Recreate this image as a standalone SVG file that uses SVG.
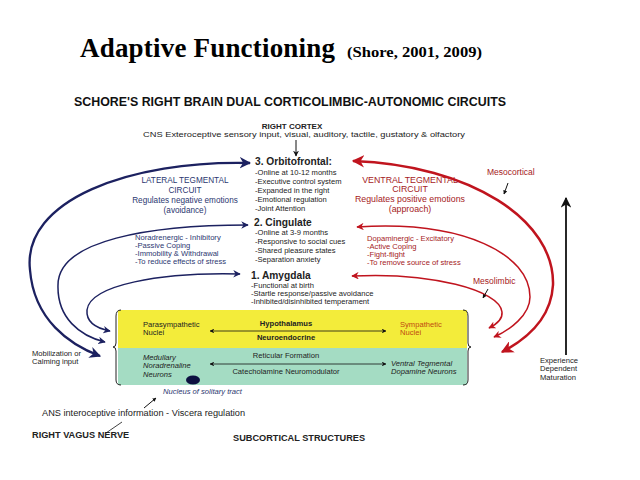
<svg xmlns="http://www.w3.org/2000/svg" width="640" height="480" viewBox="0 0 640 480">
<defs>
<marker id="mb" viewBox="0 0 10 10" refX="9" refY="5" markerWidth="5" markerHeight="5" orient="auto-start-reverse" markerUnits="strokeWidth"><path d="M0 0 L10 5 L0 10 L3 5 Z" fill="#1c2160"/></marker>
<marker id="mr" viewBox="0 0 10 10" refX="9" refY="5" markerWidth="5" markerHeight="5" orient="auto-start-reverse" markerUnits="strokeWidth"><path d="M0 0 L10 5 L0 10 L3 5 Z" fill="#c0141e"/></marker>
<marker id="mk" viewBox="0 0 10 10" refX="9" refY="5" markerWidth="6" markerHeight="6" orient="auto-start-reverse" markerUnits="strokeWidth"><path d="M0 0 L10 5 L0 10 L3 5 Z" fill="#111"/></marker>
<marker id="mk2" viewBox="0 0 10 10" refX="9" refY="5" markerWidth="4" markerHeight="4" orient="auto-start-reverse"><path d="M0 0 L10 5 L0 10 Z" fill="#111"/></marker>
</defs>
<style>
text{font-family:"Liberation Sans",Arial,sans-serif;fill:#222}
.s{font-size:7.6px}
.b{font-weight:bold}
.blue{fill:#2b3770}
.red{fill:#a51a24}
.it{font-style:italic}
.m{text-anchor:middle}
.bl{fill:none;stroke:#1c2160;stroke-width:2}
.rd{fill:none;stroke:#c0141e;stroke-width:2}
</style>
<rect width="640" height="480" fill="#fff"/>
<g id="title">
<text x="80" y="57" style="font-family:'Liberation Serif',serif;font-size:27px;font-weight:bold;fill:#000" textLength="255">Adaptive Functioning</text>
<text x="347" y="57" style="font-family:'Liberation Serif',serif;font-size:15px;font-weight:bold;fill:#000" textLength="135" lengthAdjust="spacingAndGlyphs">(Shore, 2001, 2009)</text>
</g>
<g id="header">
<text x="74" y="106" class="b" style="font-size:12.5px;fill:#111" textLength="432" lengthAdjust="spacingAndGlyphs">SCHORE'S RIGHT BRAIN DUAL CORTICOLIMBIC-AUTONOMIC CIRCUITS</text>
</g>
<g id="cortex">
<text x="292" y="129" class="b m" style="font-size:8px">RIGHT CORTEX</text>
<text x="143" y="137" style="font-size:7.6px" textLength="322" lengthAdjust="spacingAndGlyphs">CNS Exteroceptive sensory input, visual, auditory, tactile, gustatory &amp; olfactory</text>
</g>
<g id="orbitofrontal">
<text x="255" y="165" class="b" style="font-size:10.2px">3. Orbitofrontal:</text>
<text x="255" y="175" class="s">-Online at 10-12 months</text>
<text x="255" y="184" class="s">-Executive control system</text>
<text x="255" y="193" class="s">-Expanded in the right</text>
<text x="255" y="202" class="s">-Emotional regulation</text>
<text x="255" y="211" class="s">-Joint Attention</text>
</g>
<g id="cingulate">
<text x="254" y="226" class="b" style="font-size:10.2px">2.  Cingulate</text>
<text x="255" y="235" class="s">-Online at 3-9 months</text>
<text x="255" y="244" class="s">-Responsive to social cues</text>
<text x="255" y="253" class="s">-Shared pleasure states</text>
<text x="255" y="262" class="s">-Separation anxiety</text>
</g>
<g id="amygdala">
<text x="251" y="279" class="b" style="font-size:10.2px">1.  Amygdala</text>
<text x="251" y="288" class="s">-Functional at birth</text>
<text x="251" y="296" class="s">-Startle response/passive avoidance</text>
<text x="251" y="304" class="s">-Inhibited/disinhibited temperament</text>
</g>
<g id="lateral">
<text x="185" y="183" class="blue m" style="font-size:8.2px">LATERAL TEGMENTAL</text>
<text x="185" y="193" class="blue m" style="font-size:8.2px">CIRCUIT</text>
<text x="185" y="203" class="blue m" style="font-size:8.2px">Regulates negative emotions</text>
<text x="185" y="213" class="blue m" style="font-size:8.2px">(avoidance)</text>
<text x="135" y="240" class="blue s">Noradrenergic  - Inhibitory</text>
<text x="135" y="248" class="blue s">-Passive Coping</text>
<text x="135" y="256" class="blue s">-Immobility &amp; Withdrawal</text>
<text x="135" y="264" class="blue s">-To reduce effects of stress</text>
</g>
<g id="ventral">
<text x="410" y="183" class="red m" style="font-size:8.8px">VENTRAL TEGMENTAL</text>
<text x="410" y="192" class="red m" style="font-size:8.8px">CIRCUIT</text>
<text x="410" y="202" class="red m" style="font-size:8.8px">Regulates positive emotions</text>
<text x="410" y="212" class="red m" style="font-size:8.8px">(approach)</text>
<text x="367" y="241" class="red" style="font-size:7.6px">Dopaminergic - Excitatory</text>
<text x="367" y="249" class="red" style="font-size:7.6px">-Active Coping</text>
<text x="367" y="257" class="red" style="font-size:7.6px">-Fight-flight</text>
<text x="367" y="265" class="red" style="font-size:7.6px">-To remove source of stress</text>
<text x="487" y="175" class="red" style="font-size:8.5px">Mesocortical</text>
<text x="473" y="284" class="red" style="font-size:8.5px">Mesolimbic</text>
</g>
<g id="subcortical">
<rect x="118" y="310" width="349" height="38" fill="#f3ec3a"/>
<rect x="118" y="348" width="349" height="37" fill="#a4dcc3"/>
<path d="M121 310 Q116 310 116 316 L116 343 Q116 347 113 347 Q116 347 116 351 L116 380 Q116 385 121 385" fill="none" stroke="#222" stroke-width="1"/>
<path d="M463 310 Q468 310 468 316 L468 343 Q468 347 471 347 Q468 347 468 351 L468 380 Q468 385 463 385" fill="none" stroke="#222" stroke-width="1"/>
<text x="143" y="327" class="s">Parasympathetic</text>
<text x="143" y="335" class="s">Nuclei</text>
<text x="286" y="326" class="s b m">Hypothalamus</text>
<text x="286" y="340" class="s b m">Neuroendocrine</text>
<text x="400" y="327" class="s" style="fill:#c04a10">Sympathetic</text>
<text x="400" y="335" class="s" style="fill:#c04a10">Nuclei</text>
<text x="143" y="360" class="s it">Medullary</text>
<text x="143" y="368" class="s it">Noradrenaline</text>
<text x="143" y="377" class="s it">Neurons</text>
<text x="286" y="358" class="s m">Reticular Formation</text>
<text x="286" y="374" class="s m">Catecholamine Neuromodulator</text>
<text x="391" y="366" class="s it">Ventral Tegmental</text>
<text x="391" y="374" class="s it">Dopamine Neurons</text>
<ellipse cx="193" cy="380" rx="7" ry="4.5" fill="#0d1040"/>
</g>
<g id="labels">
<text x="163" y="394" class="blue s it">Nucleus of solitary tract</text>
<text x="42" y="416" style="font-size:9.2px">ANS interoceptive information - Viscera regulation</text>
<text x="32" y="438" class="b" style="font-size:9.2px">RIGHT VAGUS NERVE</text>
<text x="233" y="441" class="b" style="font-size:9.2px">SUBCORTICAL STRUCTURES</text>
<text x="32" y="356" class="s">Mobilization or</text>
<text x="32" y="364" class="s">Calming input</text>
<text x="540" y="363" class="s">Experience</text>
<text x="540" y="371" class="s">Dependent</text>
<text x="540" y="380" class="s">Maturation</text>
</g>
<g id="connectors">
<line x1="296" y1="140" x2="296" y2="156" stroke="#111" stroke-width="1" marker-end="url(#mk)"/>
<path class="bl" d="M250 163 C130 160 22 200 30 270 C34 320 70 345 100 356" marker-start="url(#mb)" marker-end="url(#mb)" style="stroke-width:2.3"/>
<path class="bl" d="M248 225 C150 225 58 240 58 285 C57 318 80 336 105 342" marker-start="url(#mb)" marker-end="url(#mb)" style="stroke-width:1.5"/>
<path class="bl" d="M240 274 C160 272 90 285 87 310 C86 322 95 328 110 331" marker-start="url(#mb)" marker-end="url(#mb)" style="stroke-width:1.5"/>
<path class="rd" d="M353 161 C470 165 555 220 553 285 C551 320 525 340 502 352" marker-start="url(#mr)" marker-end="url(#mr)" style="stroke-width:2.5"/>
<path class="rd" d="M357 227 C465 220 530 255 530 297 C530 315 510 330 494 337" marker-start="url(#mr)" marker-end="url(#mr)" style="stroke-width:1.5"/>
<path class="rd" d="M352 276 C430 272 500 290 502 312 C503 320 495 325 489 328" marker-start="url(#mr)" marker-end="url(#mr)" style="stroke-width:1.5"/>
<line x1="566" y1="355" x2="566" y2="198" stroke="#111" stroke-width="1.8" marker-end="url(#mk)"/>
<line x1="508" y1="183" x2="504" y2="194" stroke="#111" stroke-width="1" marker-end="url(#mk2)"/>
<line x1="488" y1="289" x2="483" y2="298" stroke="#111" stroke-width="1" marker-end="url(#mk2)"/>
<line x1="210" y1="331" x2="386" y2="331" stroke="#111" stroke-width="0.8" marker-start="url(#mk)" marker-end="url(#mk)"/>
<line x1="210" y1="364" x2="386" y2="364" stroke="#111" stroke-width="0.8" marker-start="url(#mk)" marker-end="url(#mk)"/>
<line x1="144" y1="408" x2="156" y2="398" stroke="#111" stroke-width="1" marker-end="url(#mk2)"/>
<line x1="106" y1="433" x2="122" y2="422" stroke="#111" stroke-width="0.8"/>
</g>
</svg>
